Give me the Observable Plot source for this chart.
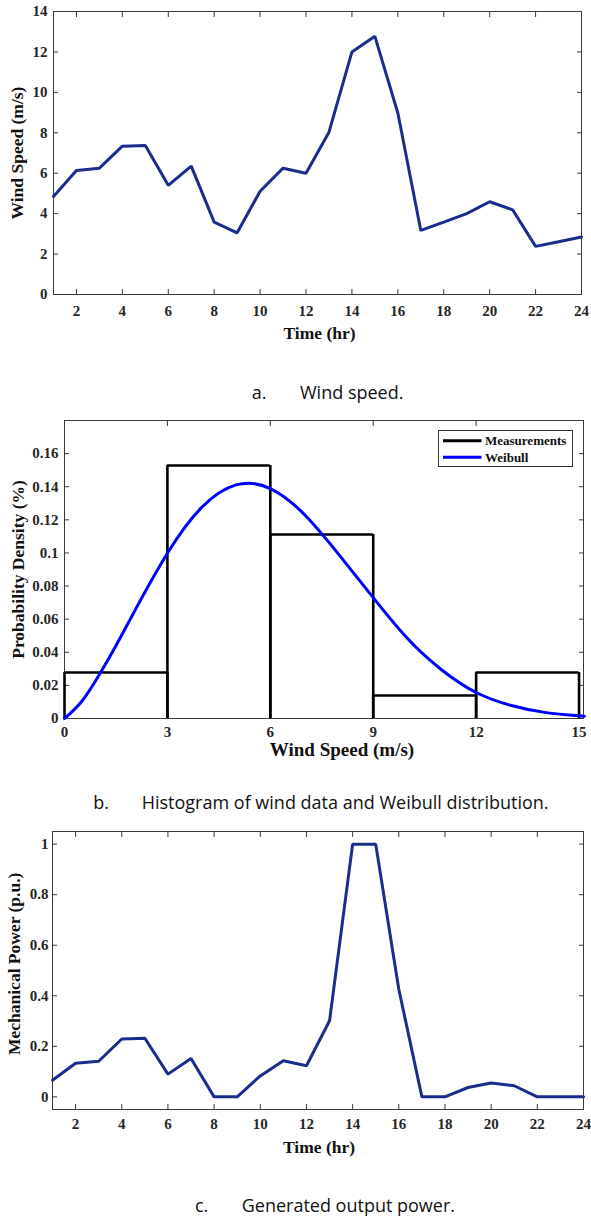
<!DOCTYPE html>
<html>
<head>
<meta charset="utf-8">
<script src="https://cdn.jsdelivr.net/npm/d3@7"></script>
<script src="https://cdn.jsdelivr.net/npm/@observablehq/plot@0.6"></script>
<style>
  html, body { margin: 0; padding: 0; background: #fff; }
  #page { position: relative; width: 591px; height: 1217px; overflow: hidden; }
  #page > svg { position: absolute; left: 0; }
</style>
</head>
<body>
<div id="page"></div>
<script>
// ---------- data ----------
const hours = [1,2,3,4,5,6,7,8,9,10,11,12,13,14,15,16,17,18,19,20,21,22,23,24];
const windSpeed = [4.85,6.14,6.25,7.34,7.37,5.40,6.35,3.58,3.05,5.11,6.25,6.00,8.03,12.00,12.77,8.98,3.17,3.58,4.00,4.59,4.19,2.38,2.61,2.84];
const mechPower = [0.066,0.133,0.141,0.229,0.232,0.090,0.152,0,0,0.083,0.143,0.123,0.301,1,1,0.426,0,0,0.037,0.055,0.044,0,0,0];

const binLow  = [0,3,6,9,12];
const binHigh = [3,6,9,12,15];
const binDensity = [0.0278,0.1528,0.1111,0.0139,0.0278];

const weibullX = [0,0.5,1,1.5,2,3,4,5,6,7,8,9,10,11,12,13,14,15,15.13];
const weibullY = [0,0.0103,0.026,0.044,0.0632,0.0998,0.1275,0.1411,0.1389,0.1231,0.099,0.073,0.0483,0.0293,0.0157,0.0080,0.0037,0.0016,0.0014];

const hourTicks = [2,4,6,8,10,12,14,16,18,20,22,24];
const windTicks = [0,2,4,6,8,10,12,14];
const speedTicks = [0,3,6,9,12,15];
const densityTicks = [0,0.02,0.04,0.06,0.08,0.1,0.12,0.14,0.16];
const powerTicks = [0,0.2,0.4,0.6,0.8,1];

const labels = {
  timeX: "Time (hr)", windY: "Wind Speed (m/s)",
  speedX: "Wind Speed (m/s)", densityY: "Probability Density (%)",
  powerY: "Mechanical Power (p.u.)"
};
const captions = [
  ["a.", "Wind speed."],
  ["b.", "Histogram of wind data and Weibull distribution."],
  ["c.", "Generated output power."]
];
const legendItems = ["Measurements", "Weibull"];

// ---------- style ----------
const serif = "'Liberation Serif','Times New Roman',serif";
const navy = "#1a2c8c";
const frameColor = "#3a3a3a";
const tickColor = "#262626";
const baseStyle = {fontFamily: serif, fontWeight: "bold", fontSize: "15px", color: tickColor, background: "transparent", overflow: "visible"};
const tf = {fontSize: 15, fontWeight: "bold", fontFamily: serif};

function axes(xT, yT, xPad, yPad, fmtY, topT) {
  return [
    Plot.frame({stroke: frameColor, strokeWidth: 1}),
    Plot.axisX(xT, {anchor: "bottom", tickSize: -5, tickPadding: xPad, label: null, stroke: frameColor, ...tf}),
    Plot.axisX(topT || xT, {anchor: "top", tickSize: -5, tickFormat: () => "", label: null, stroke: frameColor}),
    Plot.axisY(yT, {anchor: "left", tickSize: -5, tickPadding: yPad, label: null, tickFormat: fmtY, stroke: frameColor, ...tf}),
    Plot.axisY(yT, {anchor: "right", tickSize: -5, tickFormat: () => "", label: null, stroke: frameColor})
  ];
}
const labelText = (s, o) => Plot.text([s], {text: d => d, fontSize: 17.5, fontWeight: "bold", fontFamily: serif, fill: "#111", textAnchor: "middle", lineAnchor: "middle", ...o});

const page = document.getElementById("page");

// ---------- panel a ----------
const windData = hours.map((h, i) => ({h, v: windSpeed[i]}));
const pa = Plot.plot({
  width: 591, height: 350,
  marginLeft: 53, marginRight: 10, marginTop: 11, marginBottom: 56,
  style: baseStyle,
  x: {domain: [1, 24]},
  y: {domain: [0, 14]},
  marks: [
    ...axes(hourTicks, windTicks, 16, 11, d => String(d)),
    Plot.line(windData, {x: "h", y: "v", stroke: navy, strokeWidth: 3, strokeLinejoin: "miter"}),
    labelText(labels.timeX, {frameAnchor: "bottom", dy: 39, dx: 2}),
    labelText(labels.windY, {frameAnchor: "left", rotate: -90, dx: -35.7})
  ]
});
pa.style.top = "0px";
page.appendChild(pa);

// ---------- panel b ----------
const bins = binLow.map((lo, i) => ({lo, hi: binHigh[i], d: binDensity[i]}));
const weib = weibullX.map((x, i) => ({x, y: weibullY[i]}));
const pb = Plot.plot({
  width: 591, height: 360,
  marginLeft: 64, marginRight: 8, marginTop: 20, marginBottom: 42,
  style: baseStyle,
  x: {domain: [0, 15.13]},
  y: {domain: [0, 0.18]},
  marks: [
    ...axes(speedTicks, densityTicks, 13, 11, d => String(+d.toFixed(2)), [3,6,9,12]),
    Plot.ruleY(bins, {y: "d", x1: "lo", x2: "hi", stroke: "#000", strokeWidth: 2.6}),
    Plot.ruleX(bins, {x: "lo", y1: 0, y2: "d", stroke: "#000", strokeWidth: 2.6}),
    Plot.ruleX(bins, {x: "hi", y1: 0, y2: "d", stroke: "#000", strokeWidth: 2.6}),
    Plot.line(weib, {x: "x", y: "y", stroke: "#0000ff", strokeWidth: 3, curve: "natural"}),
    labelText(labels.speedX, {frameAnchor: "bottom", dy: 31, dx: 18, fontSize: 19}),
    labelText(labels.densityY, {frameAnchor: "left", rotate: -90, dx: -45.7})
  ]
});
pb.style.top = "400px";
page.appendChild(pb);

// ---------- panel c ----------
const powerData = hours.map((h, i) => ({h, v: mechPower[i]}));
const pc = Plot.plot({
  width: 591, height: 350,
  marginLeft: 52, marginRight: 8, marginTop: 16, marginBottom: 56,
  style: baseStyle,
  x: {domain: [1, 24]},
  y: {domain: [-0.05, 1.05]},
  marks: [
    ...axes(hourTicks, powerTicks, 14, 9, d => String(+d.toFixed(1))),
    Plot.line(powerData, {x: "h", y: "v", stroke: navy, strokeWidth: 3, strokeLinejoin: "miter"}),
    labelText(labels.timeX, {frameAnchor: "bottom", dy: 38, dx: 1}),
    labelText(labels.powerY, {frameAnchor: "left", rotate: -90, dx: -38.5, dy: -6.7})
  ]
});
pc.style.top = "815px";
page.appendChild(pc);

// ---------- overlay: legend + captions ----------
const ov = d3.select(page).append("svg")
  .attr("width", 591).attr("height", 1217)
  .style("position", "absolute").style("top", "0px").style("left", "0px")
  .style("pointer-events", "none");

const lg = ov.append("g");
lg.append("rect").attr("x", 438.5).attr("y", 430.5).attr("width", 134).attr("height", 36)
  .attr("fill", "#fff").attr("stroke", "#333").attr("stroke-width", 1);
const lgColors = ["#000", "#0000ff"];
legendItems.forEach((t, i) => {
  const y = 440.7 + i * 16.6;
  lg.append("line").attr("x1", 443).attr("x2", 481.5).attr("y1", y).attr("y2", y)
    .attr("stroke", lgColors[i]).attr("stroke-width", 3);
  lg.append("text").attr("x", 485).attr("y", y + 4.5).text(t)
    .attr("font-family", serif).attr("font-weight", "bold").attr("font-size", 13).attr("fill", "#111");
});

const capPos = [
  {x1: 251.7, x2: 300, y: 399},
  {x1: 93.3, x2: 141.7, y: 809},
  {x1: 195, x2: 241.7, y: 1212}
];
captions.forEach(([k, t], i) => {
  const p = capPos[i];
  const g = ov.append("g").attr("font-family", "'Open Sans','Noto Sans',sans-serif").attr("font-size", 18).attr("fill", "#111");
  g.append("text").attr("x", p.x1).attr("y", p.y).text(k);
  g.append("text").attr("x", p.x2).attr("y", p.y).text(t);
});
</script>
</body>
</html>
